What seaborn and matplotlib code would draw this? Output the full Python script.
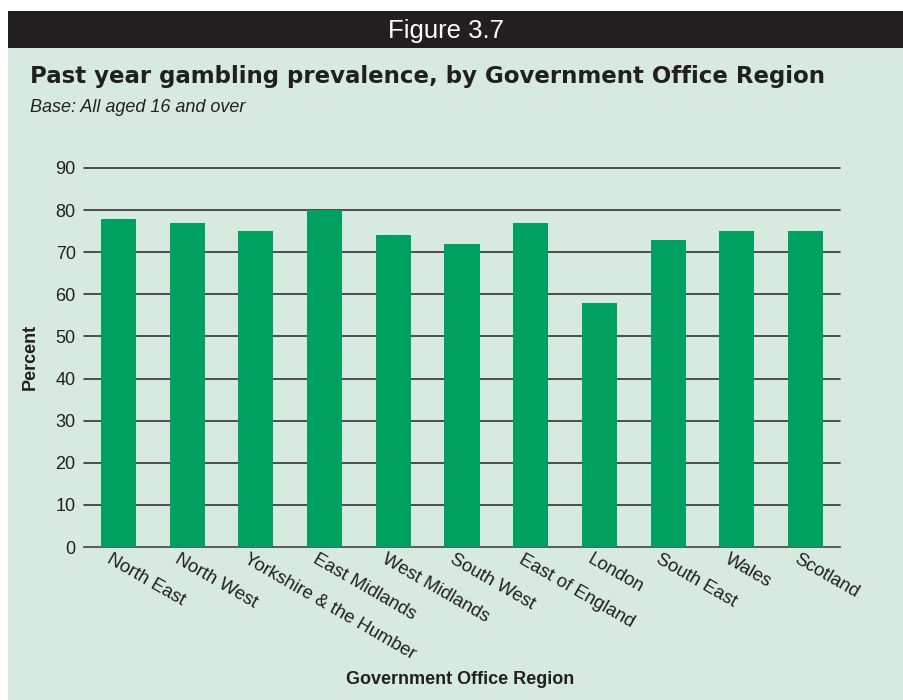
import matplotlib
matplotlib.use("Agg")
import matplotlib.pyplot as plt
import matplotlib.patches as mpatches
from matplotlib.transforms import ScaledTranslation
import seaborn as sns
import pandas as pd

regions = ["North East", "North West", "Yorkshire & the Humber", "East Midlands",
           "West Midlands", "South West", "East of England", "London",
           "South East", "Wales", "Scotland"]
percent = [78, 77, 75, 80, 74, 72, 77, 58, 73, 75, 75]
yticks = [0, 10, 20, 30, 40, 50, 60, 70, 80, 90]

df = pd.DataFrame({"region": regions, "percent": percent})

sns.set_theme(style="white")
plt.rcParams["font.family"] = ["Liberation Sans", "DejaVu Sans"]

W, H = 904, 700
fig = plt.figure(figsize=(W / 100, H / 100), dpi=100)
fig.patch.set_facecolor("white")

panel = "#d6eadf"
fig.add_artist(mpatches.Rectangle((8 / W, 0), 1 - 8 / W, 1 - 48 / H,
                                  transform=fig.transFigure, facecolor=panel,
                                  edgecolor="none", zorder=0))
fig.add_artist(mpatches.Rectangle((8 / W, 1 - 48 / H), 1 - 8 / W, 37 / H,
                                  transform=fig.transFigure, facecolor="#231f20",
                                  edgecolor="none", zorder=0))
fig.text(446 / W, 1 - 31 / H, "Figure 3.7", color="white", fontsize=18.5,
         ha="center", va="center")
fig.text(30 / W, 1 - 77 / H, "Past year gambling prevalence, by Government Office Region",
         fontsize=16.5, fontweight="bold", family=["DejaVu Sans"], color="#231f20",
         ha="left", va="center")
fig.text(30 / W, 1 - 108 / H, "Base: All aged 16 and over", fontsize=13,
         fontstyle="italic", color="#231f20", ha="left", va="center")

ax = fig.add_axes([84 / W, 1 - 547 / H, (840 - 84) / W, (547 - 168) / H])
ax.set_facecolor("none")
sns.barplot(data=df, x="region", y="percent", color="#00a160", saturation=1,
            width=0.51, ax=ax, zorder=3, edgecolor="none")
ax.set_xlim(-0.5, len(regions) - 0.5)
ax.set_ylim(0, 90)
ax.set_yticks(yticks)
ax.set_yticklabels([str(v) for v in yticks], fontsize=13, color="#231f20")
for v in yticks[1:]:
    ax.axhline(v, color="#333333", lw=1.2, zorder=1, clip_on=False)
for s in ["top", "right", "left"]:
    ax.spines[s].set_visible(False)
ax.spines["bottom"].set_color("#444444")
ax.spines["bottom"].set_linewidth(1.2)
ax.tick_params(axis="y", length=0, pad=6)
ax.tick_params(axis="x", length=0, pad=3)
ax.set_xticks(range(len(regions)))
ax.set_xticklabels(regions, rotation=-30, ha="left", va="top",
                   rotation_mode="anchor", fontsize=13.3, color="#231f20")
off = ScaledTranslation(-4.5 / 72, 0, fig.dpi_scale_trans)
for lab in ax.get_xticklabels():
    lab.set_transform(lab.get_transform() + off)
ax.set_xlabel("")
ax.set_ylabel("")
fig.text(460 / W, 1 - 679 / H, "Government Office Region", fontsize=13,
         fontweight="bold", color="#231f20", ha="center", va="center")
fig.text(30 / W, 1 - 357 / H, "Percent", fontsize=13, fontweight="bold",
         color="#231f20", ha="center", va="center", rotation=90)

fig.savefig("out.png", dpi=100)
